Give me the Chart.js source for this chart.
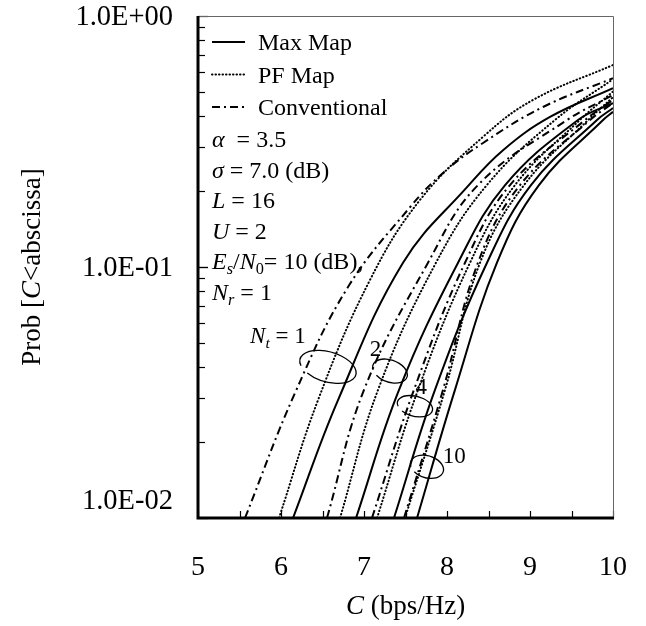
<!DOCTYPE html>
<html>
<head>
<meta charset="utf-8">
<script src="https://cdn.jsdelivr.net/npm/chart.js@4.4.1/dist/chart.umd.min.js"></script>
<style>
  html, body { margin: 0; padding: 0; background: #fff; }
  #wrap { width: 646px; height: 626px; position: relative; }
</style>
</head>
<body>
<div id="wrap"><canvas id="grafico"></canvas></div>
<script>
// C (bps/Hz) vs Prob[C<abscissa]
var max1C = [6.145, 6.687, 7.470, 8.241, 8.675, 9.241, 10];
var max1P = [0.01, 0.0295, 0.104, 0.208, 0.292, 0.396, 0.516];
var max2C = [6.904, 7.422, 8.133, 8.70, 9.578, 10];
var max2P = [0.01, 0.0324, 0.104, 0.212, 0.385, 0.450];
var max4C = [7.361, 7.855, 8.482, 9.012, 9.807, 10];
var max4P = [0.01, 0.0324, 0.104, 0.212, 0.385, 0.430];
var max10C = [7.639, 8.096, 8.602, 9.108, 9.880, 10];
var max10P = [0.01, 0.0324, 0.104, 0.212, 0.385, 0.415];

var pf1C = [5.976, 6.446, 7.072, 7.675, 8.434, 9.036, 10];
var pf1P = [0.01, 0.0295, 0.0888, 0.185, 0.330, 0.463, 0.638];
var pf2C = [6.711, 7.169, 7.867, 8.48, 9.30, 10];
var pf2P = [0.01, 0.0324, 0.104, 0.212, 0.385, 0.56];
var pf4C = [7.157, 7.651, 8.277, 8.819, 9.60, 10];
var pf4P = [0.01, 0.0324, 0.104, 0.212, 0.385, 0.50];
var pf10C = [7.494, 7.976, 8.398, 8.928, 9.70, 10];
var pf10P = [0.01, 0.0324, 0.104, 0.212, 0.385, 0.475];

var conv1C = [5.566, 6.169, 6.807, 7.554, 7.952, 8.434, 9.157, 10];
var conv1P = [0.01, 0.0315, 0.0832, 0.173, 0.237, 0.312, 0.434, 0.565];
var conv2C = [6.554, 7.0, 7.771, 8.373, 9.446, 10];
var conv2P = [0.01, 0.0324, 0.104, 0.212, 0.385, 0.484];
var conv4C = [7.096, 7.602, 8.217, 8.759, 9.663, 10];
var conv4P = [0.01, 0.0324, 0.104, 0.212, 0.385, 0.463];
var conv10C = [7.482, 7.952, 8.373, 8.88, 9.723, 10];
var conv10P = [0.01, 0.0324, 0.104, 0.212, 0.385, 0.45];

// ticks
var xTicks = [5, 5.5, 6, 6.5, 7, 7.5, 8, 8.5, 9, 9.5, 10];
var xTickLabels = ['5', '6', '7', '8', '9', '10'];
var yTickValues = [1, 0.1, 0.01];
var yTickLabels = ['1.0E+00', '1.0E-01', '1.0E-02'];

var serif = '"Liberation Serif", "Times New Roman", serif';

var estilos = {
    solid: { dash: [], cap: 'butt' },
    dotted: { dash: [0.5, 3], cap: 'round' },
    dashdot: { dash: [8, 4, 2, 4], cap: 'butt' }
};

var curvas = [
    ['Conventional', conv1C, conv1P, 'dashdot'],
    ['PF Map', pf1C, pf1P, 'dotted'],
    ['Max Map', max1C, max1P, 'solid'],
    ['Conventional', conv2C, conv2P, 'dashdot'],
    ['PF Map', pf2C, pf2P, 'dotted'],
    ['Max Map', max2C, max2P, 'solid'],
    ['Conventional', conv4C, conv4P, 'dashdot'],
    ['PF Map', pf4C, pf4P, 'dotted'],
    ['Max Map', max4C, max4P, 'solid'],
    ['Conventional', conv10C, conv10P, 'dashdot'],
    ['PF Map', pf10C, pf10P, 'dotted'],
    ['Max Map', max10C, max10P, 'solid']
];

var datasets = curvas.map(function(c) {
    var est = estilos[c[3]];
    return {
        label: c[0],
        data: c[1].map(function(x, i) { return { x: x, y: c[2][i] }; }),
        borderColor: '#000',
        borderWidth: 2,
        borderDash: est.dash,
        borderCapStyle: est.cap,
        pointRadius: 0,
        fill: false,
        tension: 0.4
    };
});

// draws text made of normal / italic / subscript pieces
function texto(ctx, partes, x, y, size, align) {
    var ancho = 0;
    partes.forEach(function(p) {
        var s = p.sub ? size * 0.68 : size;
        ctx.font = (p.it ? 'italic ' : '') + s + 'px ' + serif;
        p.w = ctx.measureText(p.t).width;
        ancho += p.w;
    });
    var cx = align === 'center' ? x - ancho / 2 : (align === 'right' ? x - ancho : x);
    ctx.textAlign = 'left';
    ctx.textBaseline = 'alphabetic';
    partes.forEach(function(p) {
        var s = p.sub ? size * 0.68 : size;
        ctx.font = (p.it ? 'italic ' : '') + s + 'px ' + serif;
        ctx.fillText(p.t, cx, p.sub ? y + size * 0.22 : y);
        cx += p.w;
    });
}

var leyenda = [
    ['Max Map', 'solid'],
    ['PF Map', 'dotted'],
    ['Conventional', 'dashdot']
];

var parametros = [
    [{ t: '\u03B1', it: true }, { t: '  = 3.5' }],
    [{ t: '\u03C3', it: true }, { t: ' = 7.0 (dB)' }],
    [{ t: 'L', it: true }, { t: ' = 16' }],
    [{ t: 'U', it: true }, { t: ' = 2' }],
    [{ t: 'E', it: true }, { t: 's', it: true, sub: true }, { t: '/' }, { t: 'N', it: true }, { t: '0', sub: true }, { t: '= 10 (dB),' }],
    [{ t: 'N', it: true }, { t: 'r', it: true, sub: true }, { t: ' = 1' }]
];

// Nt groups: loop centre (C, prob), radii, label position (C, prob)
var grupos = [
    { c: 6.566, p: 0.0400, rx: 29, ry: 15, rot: 0.28, lc: 5.627, lp: 0.0536, txt: [{ t: 'N', it: true }, { t: 't', it: true, sub: true }, { t: ' = 1' }] },
    { c: 7.313, p: 0.0385, rx: 18, ry: 11, rot: 0.35, lc: 7.07, lp: 0.0476, txt: [{ t: '2' }] },
    { c: 7.614, p: 0.0279, rx: 18, ry: 10, rot: 0.25, lc: 7.62, lp: 0.0336, txt: [{ t: '4' }] },
    { c: 7.759, p: 0.0160, rx: 17, ry: 11, rot: 0.3, lc: 7.95, lp: 0.0178, txt: [{ t: '10' }] }
];

var marco = {
    id: 'marco',
    afterDatasetsDraw: function(chart) {
        var ctx = chart.ctx, a = chart.chartArea;
        var xs = chart.scales.x, ys = chart.scales.y;
        ctx.save();
        ctx.fillStyle = '#000';
        ctx.strokeStyle = '#000';

        // y minor ticks (inside)
        ctx.lineWidth = 1.2;
        for (var d = 0.01; d < 1; d *= 10) {
            for (var k = 1; k <= 10; k++) {
                var v = d * k;
                if (v > 1.0001 || v < 0.0099) continue;
                var py = Math.round(ys.getPixelForValue(v)) + 0.5;
                ctx.beginPath();
                ctx.moveTo(a.left, py);
                ctx.lineTo(a.left + (k === 1 || k === 10 ? 10 : 7), py);
                ctx.stroke();
            }
        }
        // x ticks (inside)
        xTicks.forEach(function(v) {
            var px = Math.round(xs.getPixelForValue(v)) + 0.5;
            ctx.beginPath();
            ctx.moveTo(px, a.bottom);
            ctx.lineTo(px, a.bottom - 7);
            ctx.stroke();
        });

        // frame
        ctx.lineWidth = 1;
        ctx.strokeStyle = '#666';
        ctx.beginPath();
        ctx.moveTo(a.left, a.top + 0.5);
        ctx.lineTo(a.right + 0.5, a.top + 0.5);
        ctx.lineTo(a.right + 0.5, a.bottom);
        ctx.stroke();
        ctx.strokeStyle = '#000';
        ctx.lineWidth = 3;
        ctx.beginPath();
        ctx.moveTo(a.left, a.top);
        ctx.lineTo(a.left, a.bottom);
        ctx.lineTo(a.right + 1, a.bottom);
        ctx.stroke();

        // tick labels
        ctx.fillStyle = '#000';
        xTickLabels.forEach(function(l) {
            texto(ctx, [{ t: l }], xs.getPixelForValue(parseFloat(l)), 575, 28, 'center');
        });
        yTickValues.forEach(function(v, i) {
            var py = ys.getPixelForValue(v);
            if (i === yTickValues.length - 1) py -= 18;
            texto(ctx, [{ t: yTickLabels[i] }], 173, py + 9, 28.5, 'right');
        });

        // axis titles
        texto(ctx, [{ t: 'C', it: true }, { t: ' (bps/Hz)' }], (a.left + a.right) / 2, 614, 27, 'center');
        ctx.save();
        ctx.translate(40, (a.top + a.bottom) / 2);
        ctx.rotate(-Math.PI / 2);
        texto(ctx, [{ t: 'Prob [' }, { t: 'C', it: true }, { t: '<abscissa]' }], 0, 0, 27, 'center');
        ctx.restore();

        // legend
        leyenda.forEach(function(l, i) {
            var y = 42 + i * 32.5;
            var est = estilos[l[1]];
            ctx.lineWidth = 2;
            ctx.setLineDash(est.dash);
            ctx.lineCap = est.cap;
            ctx.beginPath();
            ctx.moveTo(212, y);
            ctx.lineTo(245, y);
            ctx.stroke();
            ctx.setLineDash([]);
            ctx.lineCap = 'butt';
            texto(ctx, [{ t: l[0] }], 258, y + 8, 24, 'left');
        });
        parametros.forEach(function(p, i) {
            texto(ctx, p, 212, 147 + i * 30.5, 24, 'left');
        });

        // Nt loops and labels
        ctx.lineWidth = 1.3;
        grupos.forEach(function(g) {
            var cx = xs.getPixelForValue(g.c), cy = ys.getPixelForValue(g.p);
            ctx.beginPath();
            ctx.ellipse(cx, cy, g.rx, g.ry, g.rot, 2.7, 2.7 + Math.PI * 2 - 0.45);
            ctx.stroke();
            texto(ctx, g.txt, xs.getPixelForValue(g.lc), ys.getPixelForValue(g.lp) + 8, 23, 'left');
        });
        ctx.restore();
    }
};

new Chart(document.getElementById('grafico'), {
    type: 'line',
    data: { datasets: datasets },
    options: {
        responsive: true,
        maintainAspectRatio: false,
        animation: false,
        devicePixelRatio: 1,
        layout: { padding: { left: 198, right: 33, top: 16, bottom: 108 } },
        plugins: { legend: { display: false }, tooltip: { enabled: false } },
        scales: {
            x: { type: 'linear', min: 5, max: 10, display: false },
            y: { type: 'logarithmic', min: 0.01, max: 1, display: false }
        }
    },
    plugins: [marco]
});
</script>
</body>
</html>
